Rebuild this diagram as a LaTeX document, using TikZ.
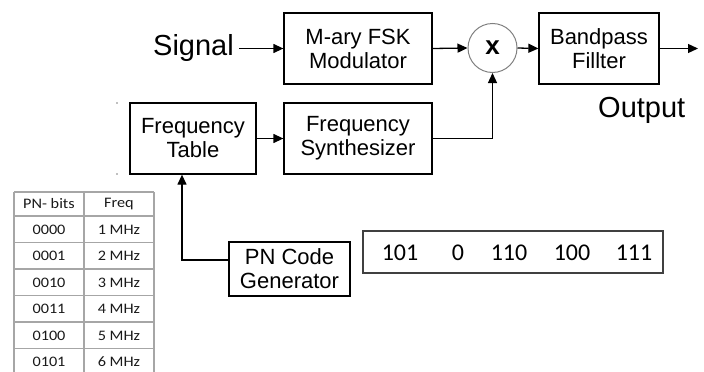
\documentclass[tikz,border=0pt]{standalone}
\usepackage{fontspec}
\setmainfont{Liberation Sans}
\newfontfamily\calfont{Carlito}
\usetikzlibrary{arrows.meta}
\begin{document}
\begin{tikzpicture}[x=1pt,y=-1pt,
  blk/.style={draw, line width=1.3pt, inner sep=0pt, align=center,
    font=\fontsize{22}{24}\selectfont},
  arr/.style={line width=1.3pt, -{Triangle[length=10pt,width=9pt]}},
  big/.style={inner sep=0pt, font=\fontsize{29}{30}\selectfont},
  tcell/.style={inner sep=0pt, text=black!90, font=\calfont\fontsize{14.5}{15}\selectfont},
  tline/.style={draw=gray!70, line width=1.3pt},
  bit/.style={inner sep=0pt, text=black, font=\calfont\fontsize{24}{25}\selectfont}
]
\useasboundingbox (0,0) rectangle (704,372);

% main blocks
\node[blk, minimum width=148pt, minimum height=71pt] (mary) at (358,48.5) {M-ary FSK\\Modulator};
\node[blk, minimum width=126pt, minimum height=71pt] (ft) at (193,138.5) {Frequency\\Table};
\node[blk, minimum width=148pt, minimum height=71pt] (syn) at (358,138.5) {Frequency\\Synthesizer};
\node[blk, minimum width=120pt, minimum height=71pt] (bpf) at (599,48.5) {Bandpass\\Fillter};
\node[blk, minimum width=121pt, minimum height=54pt] (pn) at (289.5,269) {PN Code\\Generator};
\node[draw=gray, line width=1pt, circle, minimum size=49pt, inner sep=0pt,
  font=\bfseries\fontsize{26}{26}\selectfont] (mix) at (492.5,48) {x};

% labels
\node[big, anchor=base east] (sig) at (234,55) {Signal};
\node[big, anchor=base west] (out) at (598,117) {Output};
\coordinate (outend) at (698,48.5);

% connectors
\draw[arr] ([xshift=5pt]sig.east |- mary.west) -- (mary.west);
\draw[arr] (mary.east) -- (mix.west);
\draw[arr] (mix.east) -- (bpf.west);
\draw[arr] (bpf.east) -- (outend);
\draw[arr] (ft.east) -- (syn.west);
\draw[arr] (syn.east) -| (mix.south);
\draw[arr] ([yshift=9pt]pn.west) -| ([xshift=-11pt]ft.south);

% small dots
\fill[gray] (117,103) circle (0.8pt);
\fill[gray] (117,174) circle (0.8pt);

% bit sequence box
\node[draw=black!75, line width=1.6pt, minimum width=300pt, minimum height=42pt, inner sep=0pt] (bits) at (513,252) {};
\node[bit] (b1) at (400,253) {101};
\node[bit] (b2) at (458,253) {0};
\node[bit] (b3) at (509,253) {110};
\node[bit] (b4) at (572,253) {100};
\node[bit] (b5) at (634,253) {111};

% table
\foreach \yy in {192,216,242.5,269,295.5,322,348.5}
  \draw[tline] (14,\yy) -- (154,\yy);
\foreach \xx in {14,84,154}
  \draw[tline] (\xx,192) -- (\xx,372);
\node[tcell] (h1) at (49,204) {\scalebox{1.12}[1]{PN- bits}};
\node[tcell] (h2) at (119,204) {\scalebox{1.12}[1]{Freq}};
\foreach \code/\f/\yy [count=\i] in {0000/1/229.5,0001/2/256,0010/3/282.5,0011/4/309,0100/5/335.5,0101/6/362}{
  \node[tcell] (c\i) at (49,\yy) {\scalebox{1.12}[1]{\code}};
  \node[tcell] (f\i) at (119,\yy) {\scalebox{1.12}[1]{\f\ MHz}};
}
\end{tikzpicture}
\end{document}
